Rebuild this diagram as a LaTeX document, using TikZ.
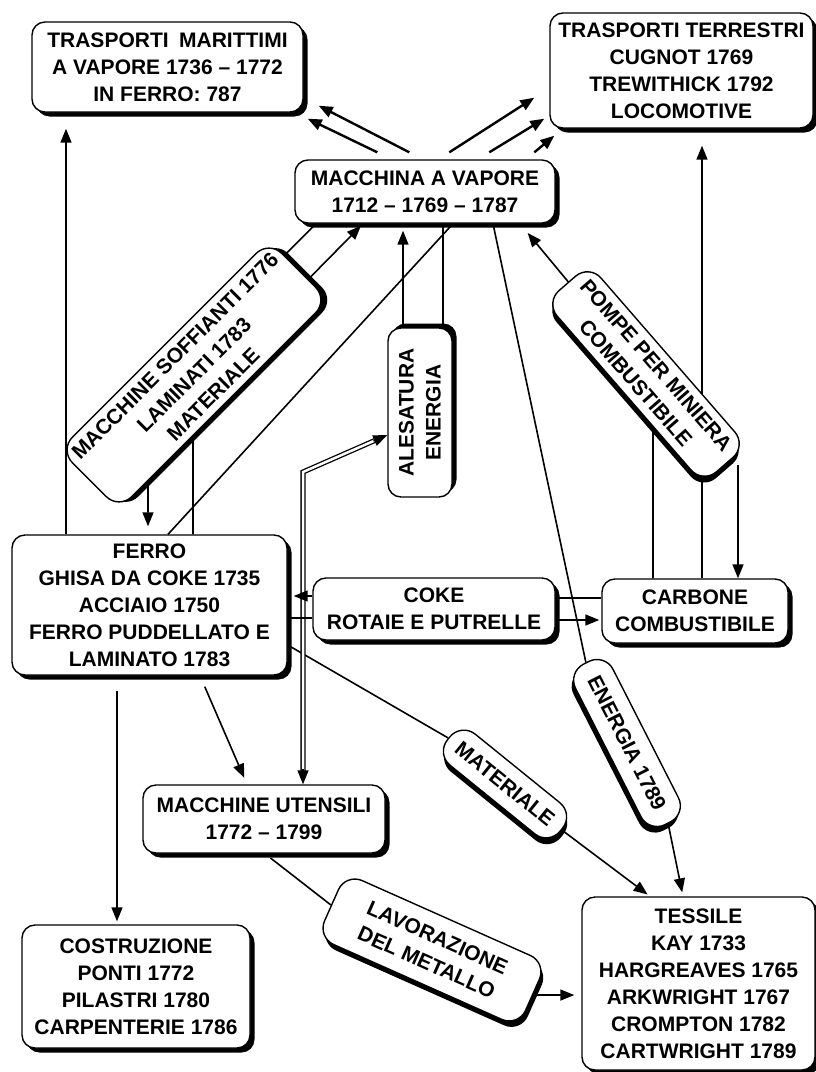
\documentclass[tikz,border=0pt]{standalone}
\usepackage{fontspec}
\setmainfont{Liberation Sans}
\usetikzlibrary{
    arrows.meta,
    calc,
    shadows,
    backgrounds
}

\begin{document}
\begin{tikzpicture}[
        x=1pt, y=-1pt,
        base/.style={draw, line width=1.4pt, fill=white, align=center,
            inner sep=4pt, font=\fontsize{21}{27}\selectfont\bfseries},
        box/.style={base, rounded corners=13pt,
            drop shadow={shadow xshift=4.5pt, shadow yshift=-4.5pt, fill=black, opacity=1}},
        tag/.style={base, rounded corners=18pt, rotate=#1,
            /utils/exec={\pgfmathsetlengthmacro\tagdx{4.5*cos(#1)+4.5*sin(#1)}%
                \pgfmathsetlengthmacro\tagdy{4.5*sin(#1)-4.5*cos(#1)}},
            drop shadow={shadow xshift=\tagdx, shadow yshift=\tagdy, fill=black, opacity=1}},
        arrow/.style={-{Triangle[length=14pt, width=11pt]}, line width=1.6pt},
        bigarrow/.style={arrow, line width=2.4pt},
        link/.style={line width=1.6pt},
        dline/.style={double, double distance=2.5pt, line width=1.3pt}
    ]
        \useasboundingbox (0,0) rectangle (816,1072);

        % Top row
        \node[box, minimum width=271pt, minimum height=90pt] (tm) at (167.5,67) {
            TRASPORTI\hspace{0.5em}MARITTIMI\\
            A VAPORE 1736 – 1772\\
            IN FERRO: 787
        };
        \node[box, minimum width=263pt, minimum height=115pt] (tt) at (681.5,70.5) {
            TRASPORTI TERRESTRI\\
            CUGNOT 1769\\
            TREWITHICK 1792\\
            LOCOMOTIVE
        };
        \node[box, minimum width=260pt, minimum height=63pt] (mv) at (425,191.5) {
            MACCHINA A VAPORE\\
            1712 – 1769 – 1787
        };

        % Tilted labels
        \node[tag=45, minimum width=296pt, minimum height=84pt, inner sep=2pt] (ms) at (194,375) {
            MACCHINE SOFFIANTI 1776\\
            LAMINATI 1783\\
            MATERIALE
        };
        \node[tag=90, rounded corners=13pt, minimum width=169pt, minimum height=64pt] (al) at (420,412.5) {
            ALESATURA\\
            ENERGIA
        };
        \node[tag=-49, minimum width=240pt, minimum height=58pt] (pm) at (646,374) {
            POMPE PER MINIERA\\
            COMBUSTIBILE
        };
        \node[tag=-39, minimum width=145pt, minimum height=40pt] (mat) at (505,784) {MATERIALE};
        \node[tag=-63, minimum width=180pt, minimum height=42pt] (en) at (627,743) {ENERGIA 1789};
        \node[tag=-24, minimum width=220pt, minimum height=70pt] (lav) at (432,950) {
            LAVORAZIONE\\
            DEL METALLO
        };

        % Middle row
        \node[box, minimum width=275pt, minimum height=140pt] (fe) at (149.5,605) {
            FERRO\\
            GHISA DA COKE 1735\\
            ACCIAIO 1750\\
            FERRO PUDDELLATO E\\
            LAMINATO 1783
        };
        \node[box, minimum width=242pt, minimum height=62pt] (ck) at (434,609) {
            COKE\\
            ROTAIE E PUTRELLE
        };
        \node[box, minimum width=186pt, minimum height=64pt] (ca) at (695,611) {
            CARBONE\\
            COMBUSTIBILE
        };

        % Bottom row
        \node[box, minimum width=242pt, minimum height=68pt] (mu) at (264,819) {
            MACCHINE UTENSILI\\
            1772 – 1799
        };
        \node[box, minimum width=228pt, minimum height=123pt] (co) at (136,986.5) {
            COSTRUZIONE\\
            PONTI 1772\\
            PILASTRI 1780\\
            CARPENTERIE 1786
        };
        \node[box, minimum width=233pt, minimum height=173pt] (te) at (698.5,983.5) {
            TESSILE\\
            KAY 1733\\
            HARGREAVES 1765\\
            ARKWRIGHT 1767\\
            CROMPTON 1782\\
            CARTWRIGHT 1789
        };

        % Connectors
        \begin{scope}[on background layer]
            % steam engine to transport
            \draw[bigarrow] ($(mv.north west)+(115,-7)$) -- ($(tm.south east)+(15,-7)$);
            \draw[bigarrow] ($(mv.north west)+(83,-7)$) -- ($(tm.south east)+(4,6)$);
            \draw[bigarrow] ($(mv.north west)+(155,-7)$) -- ($(tt.south west)+(-15,-31)$);
            \draw[bigarrow] ($(mv.north west)+(195,-7)$) -- ($(tt.south west)+(-5,-10)$);
            \draw[bigarrow] ($(mv.north west)+(240,-7)$) -- ($(tt.south west)+(5,7)$);

            % iron
            \draw[arrow, shorten >=16pt] (66,0 |- fe.north) -- (66,0 |- tm.south);
            \draw[arrow, shorten >=8pt] (316,0 |- mv.south) -- ++(-168,168) -- (148,0 |- fe.north);
            \draw[arrow, shorten >=3pt] (193,0 |- fe.north) -- ++(0,-138) -- (363,0 |- mv.south);
            \draw[link] (168,0 |- fe.north) -- (453,0 |- mv.south);
            \draw[arrow, shorten <=12pt, shorten >=7pt] (200,0 |- fe.south) -- (247,0 |- mu.north);
            \draw[arrow, shorten <=15pt, shorten >=3pt] (117,0 |- fe.south) -- (117,0 |- co.north);
            \draw[link] (fe.east |- 0,645) -- (mat.west);
            \draw[arrow, shorten >=3pt] (mat.east) -- (650,0 |- te.north);

            % boring
            \draw[arrow, shorten >=7pt] (403,0 |- al.east) -- (403,0 |- mv.south);
            \draw[link] (443,0 |- al.east) -- (443,0 |- mv.south);
            \draw[dline, shorten <=12pt, shorten >=12pt] (303,0 |- mu.north) -- (303,472) -- (al.north |- 0,435);
            \draw[arrow] ($(303,0 |- mu.north)+(0,-15)$) -- (303,0 |- mu.north);
            \draw[arrow] ($(al.north |- 0,435)!15pt!(303,472)$) -- (al.north |- 0,435);

            % energy
            \draw[link] (493,0 |- mv.south) -- (en.west);
            \draw[arrow, shorten >=4pt] (en.east) -- (683,0 |- te.north);

            % pumps
            \draw[arrow, shorten >=12pt] (653,0 |- ca.north) -- (653,384) -- (520,0 |- mv.south);
            \draw[arrow] (738,0 |- pm.east) -- (738,0 |- ca.north);
            \draw[arrow, shorten >=17pt] (702,0 |- ca.north) -- (702,0 |- tt.south);

            % coke
            \draw[arrow, shorten >=6pt] (ck.west |- 0,596) -- (fe.east |- 0,596);
            \draw[link] (fe.east |- 0,618) -- (ck.west |- 0,618);
            \draw[link] (ck.east |- 0,598) -- (ca.west |- 0,598);
            \draw[arrow, shorten >=2pt] (ck.east |- 0,620) -- (ca.west |- 0,620);

            % metal working
            \draw[link, shorten <=7pt] (265,0 |- mu.south) -- (lav.west);
            \draw[arrow, shorten >=7pt] (lav.east) -- (te.west |- lav.east);
        \end{scope}
\end{tikzpicture}
\end{document}
